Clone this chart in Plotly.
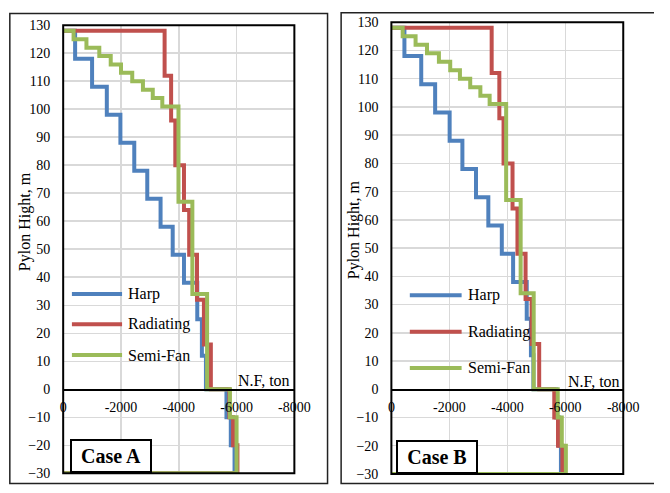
import plotly.graph_objects as go

# Step profiles of pylon normal force (ton) versus height (m).
# Each series: force value of every step and the height at the bottom of that step.
# The profile starts at (0, 128) and closes back to force 0 at the base (-30 m).
top_height = 128
base_height = -30

harp_a_force = [-413, -1000, -1510, -1980, -2460, -2910, -3370, -3790, -4180, -4640, -4800, -4940, -5650, -5800, -5930]
harp_a_bottom = [118, 108, 98, 88, 78, 68, 58, 48, 38, 25, 12, 0, -10, -20, -30]
rad_a_force = [-3510, -3735, -3880, -4180, -4360, -4630, -4870, -5110, -5750, -5880, -6030]
rad_a_bottom = [112, 96, 80, 64, 48, 32, 16, 0, -10, -20, -30]
fan_a_force = [-360, -805, -1250, -1645, -2000, -2390, -2760, -3100, -3430, -3990, -4470, -4980, -5770, -6000]
fan_a_bottom = [125, 122, 119, 116, 113, 110, 107, 104, 101, 67, 34, 0, -10, -30]

harp_b_force = [-450, -1030, -1510, -2010, -2450, -2920, -3345, -3810, -4200, -4670, -4815, -4900, -5690, -5790, -5850]
harp_b_bottom = [118, 108, 98, 88, 78, 68, 58, 48, 38, 25, 12, 0, -10, -20, -30]
rad_b_force = [-3460, -3725, -3870, -4180, -4350, -4630, -4840, -5100, -5620, -5750, -5900]
rad_b_bottom = [112, 96, 80, 64, 48, 32, 16, 0, -10, -20, -30]
fan_b_force = [-390, -835, -1230, -1640, -2030, -2365, -2720, -3070, -3390, -3960, -4460, -4910, -5740, -5880, -6020]
fan_b_bottom = [125, 122, 119, 116, 113, 110, 107, 104, 101, 67, 34, 0, -10, -20, -30]

series_names = ["Harp", "Radiating", "Semi-Fan"]
series_colors = ["#4f81bd", "#c0504d", "#9bbb59"]
case_labels = ["Case A", "Case B"]
x_ticks = [0, -2000, -4000, -6000, -8000]
y_ticks = list(range(-30, 131, 10))

FONT = "Liberation Serif, Times New Roman, serif"
W, H = 670, 493


def px_x(v):
    return v / W


def px_y(v):
    return 1 - v / H


fig = go.Figure()

cases = [
    ([(harp_a_force, harp_a_bottom), (rad_a_force, rad_a_bottom), (fan_a_force, fan_a_bottom)], "x", "y"),
    ([(harp_b_force, harp_b_bottom), (rad_b_force, rad_b_bottom), (fan_b_force, fan_b_bottom)], "x2", "y2"),
]

for series, xa, ya in cases:
    for (force, bottom), name, color in zip(series, series_names, series_colors):
        fig.add_trace(go.Scatter(
            x=[0] + force + [0],
            y=[top_height] + bottom + [base_height],
            mode="lines",
            line=dict(color=color, width=4, shape="hv"),
            name=name, showlegend=False,
            xaxis=xa, yaxis=ya,
            hoverinfo="skip",
        ))

# plot-area geometry (pixels)
panels = [
    dict(x0=61, x1=299.3, ytop=18.8, ybot=480.9),
    dict(x0=399.3, x1=638.3, ytop=15.7, ybot=481.6),
]

axis_common = dict(
    showgrid=True, gridcolor="#d9d9d9", gridwidth=1.5,
    zeroline=False, tickfont=dict(family=FONT, size=14, color="#000"),
)

for i, p in enumerate(panels):
    sx = "" if i == 0 else "2"
    ydom = [px_y(p["ybot"]), px_y(p["ytop"])]
    zero_pos = ydom[0] + (ydom[1] - ydom[0]) * (0 - (-30)) / 160
    fig.layout["xaxis" + sx] = dict(
        axis_common,
        domain=[px_x(p["x0"]), px_x(p["x1"])],
        range=[0, -8000], tickvals=x_ticks, ticktext=[str(v) for v in x_ticks],
        anchor="free", position=zero_pos,
        showline=True, linecolor="#000", linewidth=1.5,
        ticks="", ticklabelstandoff=4, fixedrange=True,
    )
    fig.layout["yaxis" + sx] = dict(
        axis_common,
        domain=ydom, range=[-30, 130], tickvals=y_ticks,
        anchor="x" + sx, showline=False, ticks="", ticklabelstandoff=12, fixedrange=True,
    )
    # plot-area frame
    fig.add_shape(type="rect", xref="x" + sx + " domain", yref="y" + sx + " domain",
                  x0=0, x1=1, y0=0, y1=1, line=dict(color="#000", width=2), layer="above")

# outer chart frames (the right one runs on past the right edge of the page)
fig.add_shape(type="rect", xref="paper", yref="paper", x0=px_x(6), x1=px_x(333.5),
              y0=px_y(491.5), y1=px_y(6.7), line=dict(color="#222", width=1.5))
fig.add_shape(type="path", xref="paper", yref="paper",
              path="M 1,{t} L {l},{t} L {l},{b} L 1,{b}".format(l=px_x(347.5), t=px_y(6), b=px_y(491.5)),
              line=dict(color="#222", width=1.5))

annotations = []

# in-plot keys: sample line + series name
key_rows = [
    dict(x0=70, x1=121.7, tx=126, ys=[296, 327.3, 359]),
    dict(x0=418.3, x1=471.7, tx=476, ys=[297.3, 335, 372.3]),
]
for row in key_rows:
    for name, color, yk in zip(series_names, series_colors, row["ys"]):
        fig.add_shape(type="line", xref="paper", yref="paper",
                      x0=px_x(row["x0"]), x1=px_x(row["x1"]), y0=px_y(yk), y1=px_y(yk),
                      line=dict(color=color, width=4))
        annotations.append(dict(
            text=name, xref="paper", yref="paper", x=px_x(row["tx"]), y=px_y(yk),
            xanchor="left", yanchor="middle", showarrow=False,
            font=dict(family=FONT, size=16, color="#000")))

title_pos = [(21, 221.5), (361, 230)]
nf_pos = [(296.5, 385), (637, 386.5)]
case_pos = [(110, 462.7), (446.7, 464.2)]
for i in range(2):
    annotations.append(dict(
        text="Pylon Hight, m", textangle=-90, xref="paper", yref="paper",
        x=px_x(title_pos[i][0]), y=px_y(title_pos[i][1]), xanchor="center", yanchor="middle",
        showarrow=False, font=dict(family=FONT, size=16, color="#000")))
    annotations.append(dict(
        text="N.F, ton", xref="paper", yref="paper",
        x=px_x(nf_pos[i][0]), y=px_y(nf_pos[i][1]), xanchor="right", yanchor="middle",
        showarrow=False, font=dict(family=FONT, size=16, color="#000")))
    annotations.append(dict(
        text="<b>" + case_labels[i] + "</b>", xref="paper", yref="paper",
        x=px_x(case_pos[i][0]), y=px_y(case_pos[i][1]), xanchor="center", yanchor="middle",
        showarrow=False, font=dict(family=FONT, size=20, color="#000"),
        bgcolor="#fff", bordercolor="#000", borderwidth=2, borderpad=3, width=72, height=24))

fig.update_layout(
    width=W, height=H,
    margin=dict(l=0, r=0, t=0, b=0),
    paper_bgcolor="#fff", plot_bgcolor="#fff",
    showlegend=False, dragmode=False,
    annotations=annotations,
)

fig.write_html(
    "out.html",
    config={"staticPlot": True},
    post_script="document.documentElement.style.overflow='hidden';"
                "document.body.style.margin='0';document.body.style.overflow='hidden';",
)
